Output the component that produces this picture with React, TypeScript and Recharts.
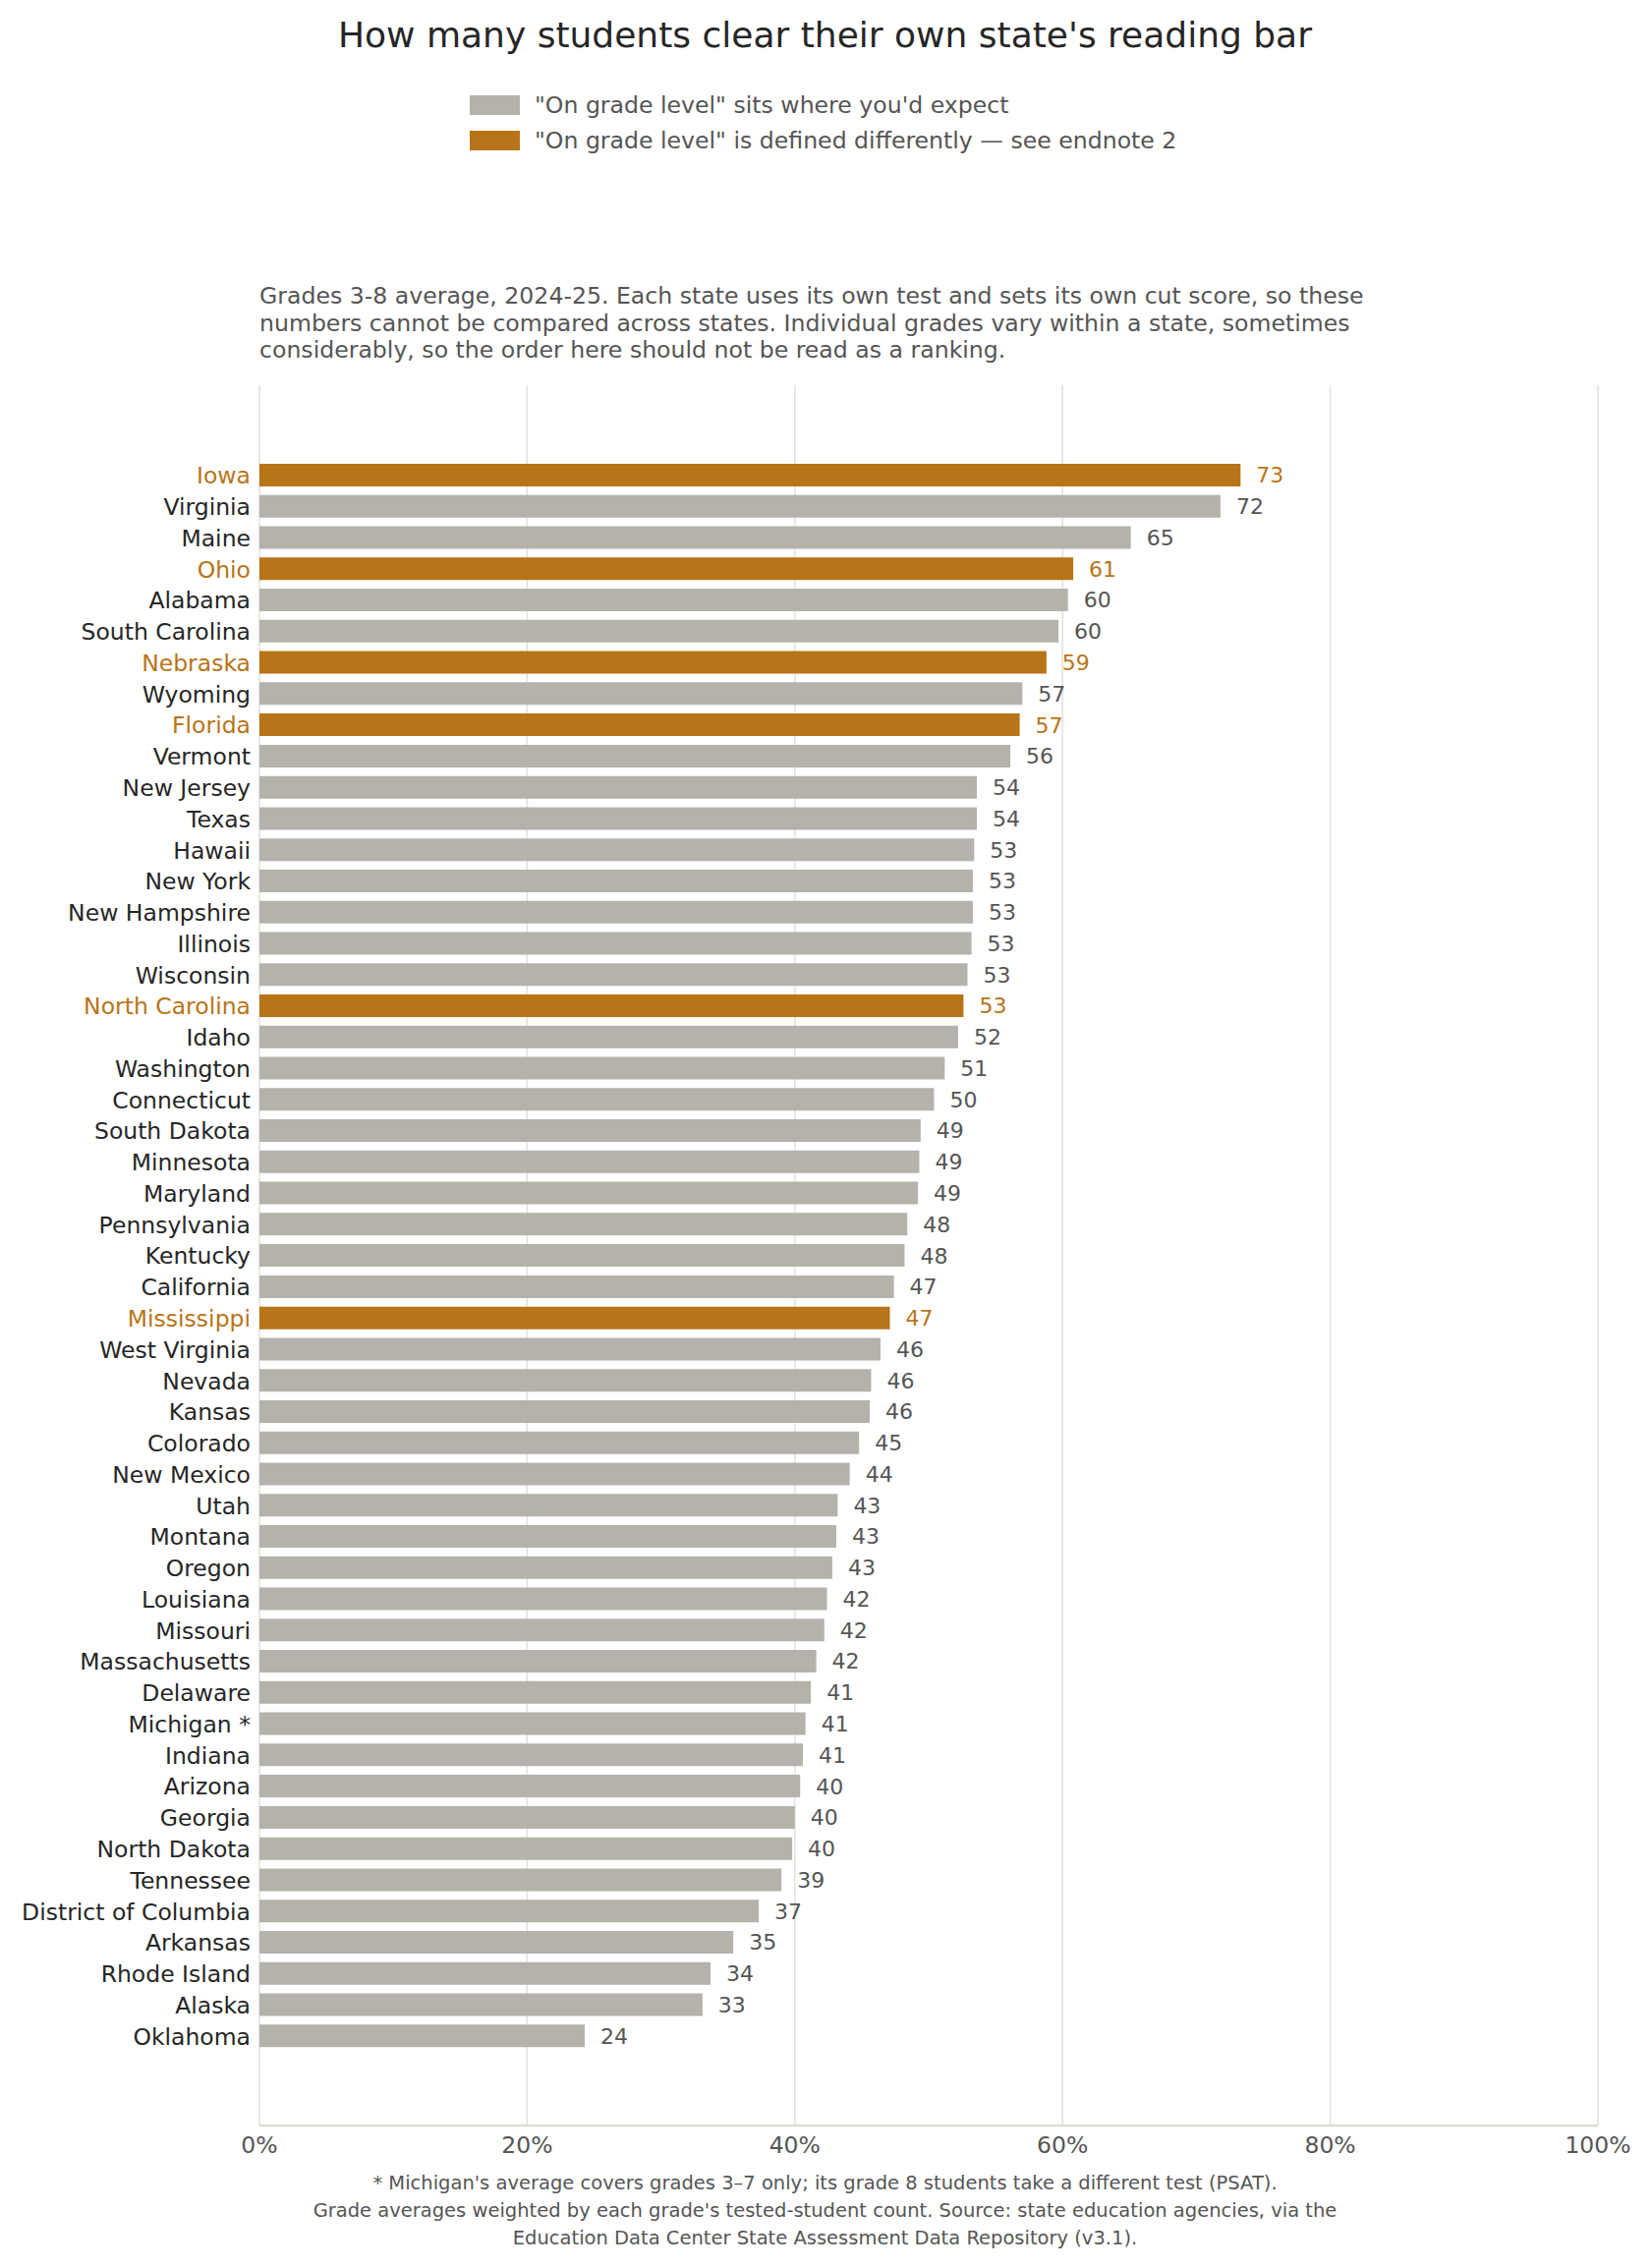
import React from 'react'
import { BarChart, Bar, XAxis, YAxis, CartesianGrid, Cell, LabelList } from 'recharts'

// Grades 3-8 reading, share of students "on grade level" by state's own cut score
const STATES = [
  'Iowa', 'Virginia', 'Maine', 'Ohio', 'Alabama', 'South Carolina', 'Nebraska', 'Wyoming',
  'Florida', 'Vermont', 'New Jersey', 'Texas', 'Hawaii', 'New York', 'New Hampshire', 'Illinois',
  'Wisconsin', 'North Carolina', 'Idaho', 'Washington', 'Connecticut', 'South Dakota', 'Minnesota',
  'Maryland', 'Pennsylvania', 'Kentucky', 'California', 'Mississippi', 'West Virginia', 'Nevada',
  'Kansas', 'Colorado', 'New Mexico', 'Utah', 'Montana', 'Oregon', 'Louisiana', 'Missouri',
  'Massachusetts', 'Delaware', 'Michigan *', 'Indiana', 'Arizona', 'Georgia', 'North Dakota',
  'Tennessee', 'District of Columbia', 'Arkansas', 'Rhode Island', 'Alaska', 'Oklahoma',
]
const PCT = [
  73.3, 71.8, 65.1, 60.8, 60.4, 59.7, 58.8, 57.0,
  56.8, 56.1, 53.6, 53.6, 53.4, 53.3, 53.3, 53.2,
  52.9, 52.6, 52.2, 51.2, 50.4, 49.4, 49.3,
  49.2, 48.4, 48.2, 47.4, 47.1, 46.4, 45.7,
  45.6, 44.8, 44.1, 43.2, 43.1, 42.8, 42.4, 42.2,
  41.6, 41.2, 40.8, 40.6, 40.4, 40.0, 39.8,
  39.0, 37.3, 35.4, 33.7, 33.1, 24.3,
]
// states whose "on grade level" is defined differently (endnote 2)
const DIFFERENT = ['Iowa', 'Ohio', 'Nebraska', 'Florida', 'North Carolina', 'Mississippi']
const X_TICKS = [0, 20, 40, 60, 80, 100]

const TITLE = "How many students clear their own state's reading bar"
const LEGEND = [
  `"On grade level" sits where you'd expect`,
  `"On grade level" is defined differently \u2014 see endnote 2`,
]
const SUBTITLE = [
  'Grades 3-8 average, 2024-25. Each state uses its own test and sets its own cut score, so these',
  'numbers cannot be compared across states. Individual grades vary within a state, sometimes',
  'considerably, so the order here should not be read as a ranking.',
]
const FOOTNOTE = [
  "* Michigan's average covers grades 3\u20137 only; its grade 8 students take a different test (PSAT).",
  "Grade averages weighted by each grade's tested-student count. Source: state education agencies, via the",
  'Education Data Center State Assessment Data Repository (v3.1).',
]

const GRAY = '#b4b2aa'
const ORANGE = '#b87418'
const FONT = '"DejaVu Sans", sans-serif'

const data = STATES.map((s, i) => ({ state: s, pct: PCT[i] }))
const isDiff = (s: string) => DIFFERENT.includes(s)

function StateTick(props: any) {
  const { x, y, payload } = props
  return (
    <text x={x} y={y} dy="0.36em" textAnchor="end" fontSize={23.5} fontFamily={FONT}
      fill={isDiff(payload.value) ? ORANGE : '#262626'}>
      {payload.value}
    </text>
  )
}

function ValueLabel(props: any) {
  const { x, y, width, height, value, index } = props
  return (
    <text x={x + width + 16} y={y + height / 2} dy="0.36em" fontSize={22} fontFamily={FONT}
      fill={isDiff(STATES[index]) ? ORANGE : '#555555'}>
      {Math.round(value)}
    </text>
  )
}

export default function App() {
  return (
    <div style={{ position: 'absolute', left: 0, top: 0, width: 1679, height: 2308, background: '#fff' }}>
      <BarChart width={1679} height={2308} data={data} layout="vertical"
        margin={{ top: 392, right: 53, bottom: 105, left: 0 }}>
        <CartesianGrid horizontal={false} stroke="#e2e1db" strokeWidth={1.5} />
        <XAxis type="number" domain={[0, 100]} ticks={X_TICKS} tickFormatter={(v) => `${v}%`}
          height={40} tickSize={0} tickMargin={11} stroke="#dddcd4" strokeWidth={2.5}
          tick={{ fontSize: 23.5, fill: '#555555', fontFamily: FONT }} />
        <YAxis type="category" dataKey="state" width={264} interval={0}
          axisLine={false} tickLine={false} tickSize={0} tickMargin={9}
          padding={{ top: 76, bottom: 75 }} tick={<StateTick />} />
        <Bar dataKey="pct" barSize={23} isAnimationActive={false}>
          {data.map((d) => (
            <Cell key={d.state} fill={isDiff(d.state) ? ORANGE : GRAY} />
          ))}
          <LabelList dataKey="pct" content={<ValueLabel />} />
        </Bar>
      </BarChart>

      <svg width={1679} height={2308} style={{ position: 'absolute', left: 0, top: 0, pointerEvents: 'none' }}
        fontFamily={FONT}>
        <text x={839.5} y={48} textAnchor="middle" fontSize={36} fill="#262626">{TITLE}</text>

        <rect x={478} y={97} width={51} height={20} fill={GRAY} />
        <text x={544} y={115} fontSize={23.6} fill="#555555">{LEGEND[0]}</text>
        <rect x={478} y={133} width={51} height={20} fill={ORANGE} />
        <text x={544} y={151} fontSize={23.6} fill="#555555">{LEGEND[1]}</text>

        {SUBTITLE.map((line, i) => (
          <text key={i} x={264} y={309 + i * 27.5} fontSize={23.6} fill="#555555">{line}</text>
        ))}

        {FOOTNOTE.map((line, i) => (
          <text key={i} x={839.5} y={2228 + i * 28} textAnchor="middle" fontSize={19.5} fill="#555555">{line}</text>
        ))}
      </svg>
    </div>
  )
}
